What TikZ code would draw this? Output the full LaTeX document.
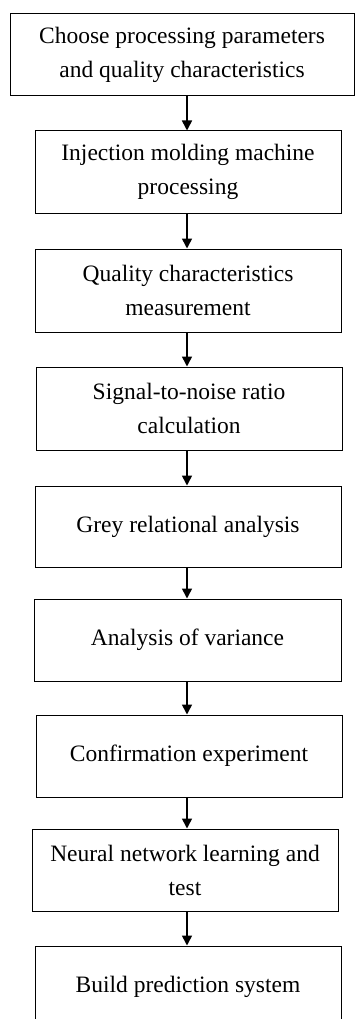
\documentclass[tikz,border=0pt]{standalone}
\usepackage{fontspec}
\setmainfont{Liberation Serif}
\usetikzlibrary{arrows.meta}
\begin{document}
\begin{tikzpicture}[x=1pt,y=-1pt,
  stepbox/.style={draw,line width=1pt,minimum height=82pt,inner sep=0pt,
    align=center,font=\fontsize{23.5}{34}\selectfont},
  flow/.style={line width=1.6pt,-{Triangle[length=10pt,width=10pt]}}]
\useasboundingbox (0,0) rectangle (358,1019);
\coordinate (ax) at (187,0);
\node[stepbox,minimum width=344pt] (b1) at (182,55) {Choose processing parameters\\and quality characteristics};
\node[stepbox,minimum width=306pt] (b2) at (188,172) {Injection molding machine\\processing};
\node[stepbox,minimum width=306pt,minimum height=83pt] (b3) at (188,290.5) {Quality characteristics\\measurement};
\node[stepbox,minimum width=306pt,minimum height=83pt] (b4) at (189,408.5) {Signal-to-noise ratio\\calculation};
\node[stepbox,minimum width=306pt,minimum height=81pt] (b5) at (188,526.5) {Grey relational analysis};
\node[stepbox,minimum width=307pt] (b6) at (187.5,640) {Analysis of variance};
\node[stepbox,minimum width=306pt] (b7) at (189,756) {Confirmation experiment};
\node[stepbox,minimum width=306pt] (b8) at (185,870) {Neural network learning and\\test};
\node[stepbox,minimum width=306pt] (b9) at (188,987) {Build prediction system};
\foreach \a/\b in {b1/b2,b2/b3,b3/b4,b4/b5,b5/b6,b6/b7,b7/b8,b8/b9}
  \draw[flow] (\a.south -| ax) -- (\b.north -| ax);
\end{tikzpicture}
\end{document}
